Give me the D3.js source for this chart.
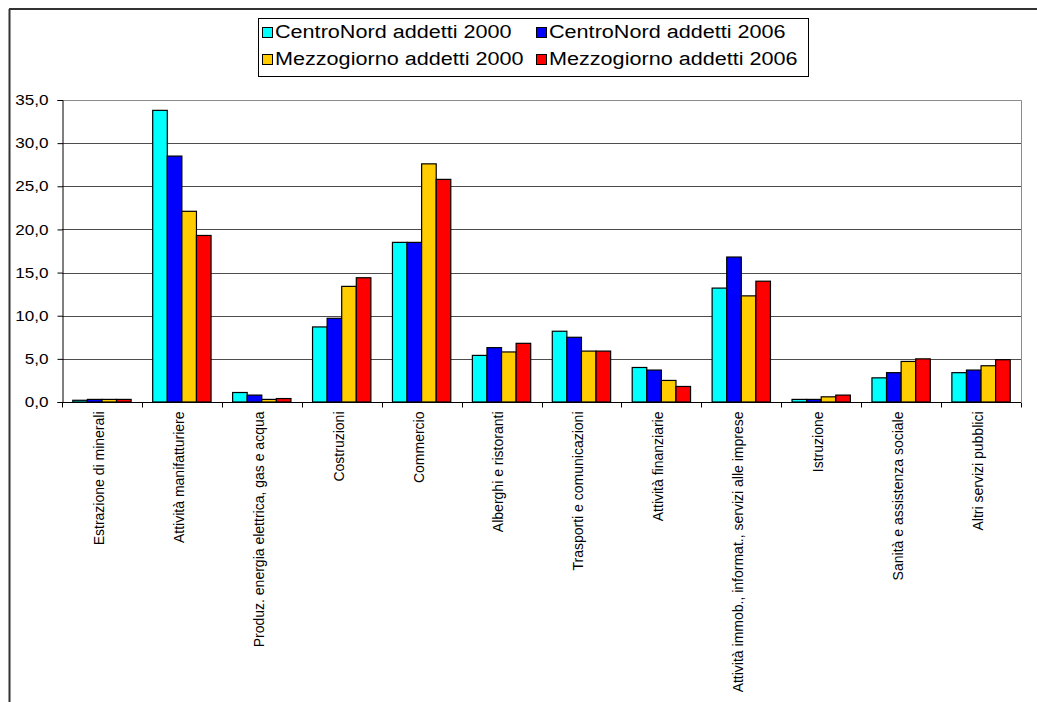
<!DOCTYPE html>
<html><head><meta charset="utf-8">
<script src="https://cdn.jsdelivr.net/npm/d3@7"></script>
<style>body{margin:0;background:#fff;}svg{display:block;font-family:"Liberation Sans",Arial,sans-serif;}</style>
</head><body>
<script>
const categories = ["Estrazione di minerali","Attività manifatturiere","Produz. energia elettrica, gas e acqua","Costruzioni","Commercio","Alberghi e ristoranti","Trasporti e comunicazioni","Attività finanziarie","Attività immob., informat., servizi alle imprese","Istruzione","Sanità e assistenza sociale","Altri servizi pubblici"];
const seriesNames = ["CentroNord addetti 2000","CentroNord addetti 2006","Mezzogiorno addetti 2000","Mezzogiorno addetti 2006"];
const centroNord2000 = [0.2,33.8,1.1,8.7,18.5,5.4,8.2,4.0,13.2,0.3,2.8,3.4];
const centroNord2006 = [0.3,28.5,0.8,9.7,18.5,6.3,7.5,3.7,16.8,0.3,3.4,3.7];
const mezzogiorno2000 = [0.3,22.1,0.3,13.4,27.6,5.8,5.9,2.5,12.3,0.6,4.7,4.2];
const mezzogiorno2006 = [0.3,19.3,0.4,14.4,25.8,6.8,5.9,1.8,14.0,0.8,5.0,4.9];
const colors = ["#00FFFF","#0000FF","#FFCC00","#FF0000"];
const yTicks = [0,5,10,15,20,25,30,35];

(function(){
const series = [centroNord2000, centroNord2006, mezzogiorno2000, mezzogiorno2006];
const W = 1037, H = 702;
const svg = d3.select("body").append("svg").attr("width", W).attr("height", H);

function stretch(sel, f){
  sel.each(function(){
    const L = this.getComputedTextLength();
    d3.select(this).attr("textLength", L*f).attr("lengthAdjust","spacingAndGlyphs");
  });
}

// outer chart frame
svg.append("line").attr("x1",9).attr("x2",W).attr("y1",9).attr("y2",9).attr("stroke","#333").attr("stroke-width",2);
svg.append("line").attr("x1",9.5).attr("x2",9.5).attr("y1",9).attr("y2",H).attr("stroke","#333").attr("stroke-width",2);

const pL = 62, pR = 1021, pT = 100, pB = 402;
const x0 = d3.scaleBand().domain(categories).range([pL, pR]).paddingInner(0.27).paddingOuter(0.135);
const x1 = d3.scaleBand().domain(d3.range(4)).range([0, x0.bandwidth()]);
const y = d3.scaleLinear().domain([0,35]).range([pB, pT]);

// plot border (top/right)
svg.append("path").attr("d",`M${pL},${pT+0.5}H${pR+0.5}V${pB}`).attr("fill","none").attr("stroke","#8a8a8a").attr("stroke-width",1);

// gridlines
svg.append("g").selectAll("line").data(yTicks.filter(d=>d>0 && d<35)).join("line")
  .attr("x1",pL).attr("x2",pR).attr("y1",d=>Math.round(y(d))+0.5).attr("y2",d=>Math.round(y(d))+0.5)
  .attr("stroke","#4d4d4d").attr("stroke-width",1);

// bars
const g = svg.append("g");
categories.forEach((c,i)=>{
  series.forEach((s,j)=>{
    g.append("rect")
      .attr("x", x0(c)+x1(j)).attr("width", x1.bandwidth())
      .attr("y", y(s[i])).attr("height", y(0)-y(s[i]))
      .attr("fill", colors[j]).attr("stroke","#000").attr("stroke-width",1.2);
  });
});

// y axis
const yAxis = d3.axisLeft(y).tickValues(yTicks).tickSize(5).tickFormat(d=>d3.format(".1f")(d).replace(".",","));
const ya = svg.append("g").attr("transform",`translate(${pL+0.5},0)`).call(yAxis);
ya.select(".domain").attr("stroke","#000");
ya.selectAll(".tick line").attr("stroke","#000");
const yl = ya.selectAll("text").attr("font-size",14.5).attr("fill","#000").attr("font-family","Liberation Sans, Arial, sans-serif").attr("x",-14);
stretch(yl, 1.18);

// x axis
const xa = svg.append("g").attr("transform",`translate(0,${pB+0.5})`);
xa.append("line").attr("x1",pL).attr("x2",pR).attr("stroke","#000");
const bounds = categories.map((c,i)=> pL + i*x0.step()).concat([pR]);
xa.selectAll("line.tk").data(bounds).join("line").attr("class","tk")
  .attr("x1",d=>Math.round(d)+0.5).attr("x2",d=>Math.round(d)+0.5).attr("y1",0).attr("y2",5).attr("stroke","#000");
const xl = xa.selectAll("text").data(categories).join("text")
  .attr("transform",d=>`translate(${x0(d)+x0.bandwidth()/2-3},9) rotate(-90)`)
  .attr("text-anchor","end").attr("dy","0.35em")
  .attr("font-size",14).attr("fill","#000").text(d=>d);
stretch(xl, 1.0);

// legend
const lg = svg.append("g");
lg.append("rect").attr("x",258.5).attr("y",18.5).attr("width",550).attr("height",58).attr("fill","#fff").attr("stroke","#000").attr("stroke-width",1);
const pos = [[262,32],[536,32],[262,59],[536,59]];
seriesNames.forEach((n,j)=>{
  lg.append("rect").attr("x",pos[j][0]+0.5).attr("y",pos[j][1]-4.5).attr("width",10).attr("height",10)
    .attr("fill",colors[j]).attr("stroke","#000").attr("stroke-width",1);
  const t = lg.append("text").attr("x",pos[j][0]+13).attr("y",pos[j][1]).attr("dy","0.36em")
    .attr("font-size",18).attr("fill","#000").text(n);
  stretch(t, 1.2);
});
})();
</script>
</body></html>
